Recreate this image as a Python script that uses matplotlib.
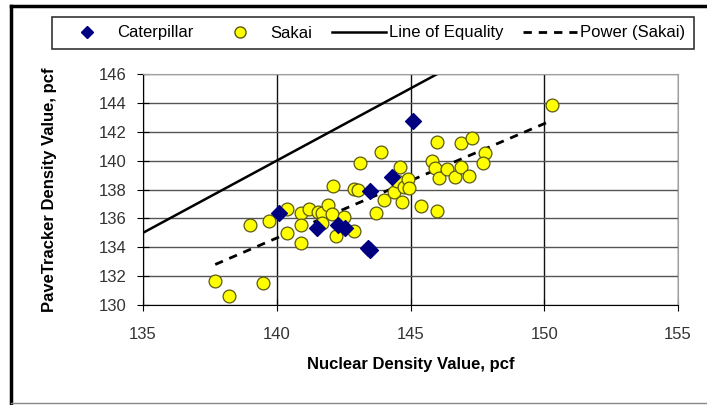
import matplotlib.pyplot as plt
import numpy as np
from matplotlib.lines import Line2D

plt.rcParams['font.family'] = ['Liberation Sans', 'DejaVu Sans']

# Caterpillar roller readings (nuclear gauge vs PaveTracker), pcf
cat_nuclear = [140.1, 141.5, 142.3, 142.55, 143.4, 143.5, 143.5, 144.3, 145.1]
cat_pave = [136.4, 135.35, 135.55, 135.3, 133.95, 133.8, 137.9, 138.9, 142.75]

# Sakai roller readings, pcf
sakai_nuclear = [137.7, 138.2, 139.5, 139.0, 139.7, 140.4, 140.4, 140.9, 140.9, 140.9,
                 141.2, 141.55, 141.7, 141.7, 141.9, 142.05, 142.1, 142.2, 142.5, 142.9,
                 142.9, 143.05, 143.1, 143.7, 143.9, 144.0, 144.4, 144.6, 144.5, 144.7,
                 144.75, 144.9, 144.95, 145.4, 150.3, 146.0, 146.9, 147.3, 147.8, 147.7,
                 145.8, 145.9, 146.05, 146.35, 146.65, 146.9, 147.2, 146.0]
sakai_pave = [131.65, 130.65, 131.5, 135.55, 135.85, 136.65, 135.0, 136.35, 135.55, 134.3,
              136.65, 136.45, 136.35, 135.65, 136.9, 136.3, 138.25, 134.8, 136.1, 135.1,
              138.05, 137.95, 139.85, 136.4, 140.6, 137.3, 137.85, 139.55, 138.6, 137.15,
              138.15, 138.7, 138.1, 136.85, 143.85, 141.3, 141.2, 141.55, 140.55, 139.85,
              139.95, 139.5, 138.8, 139.4, 138.85, 139.55, 138.95, 136.5]

fig = plt.figure(figsize=(7.07, 4.05), dpi=100)
ax = fig.add_axes([143/707, 1 - 305/405, 535/707, 231/405])

# line of equality
eq = np.array([135, 155])
ax.plot(eq, eq, color='black', lw=1.8, zorder=2)

# power trendline fitted to the Sakai data
sx = np.array(sakai_nuclear)
sy = np.array(sakai_pave)
b, loga = np.polyfit(np.log(sx), np.log(sy), 1)
tx = np.linspace(sx.min(), sx.max(), 50)
ax.plot(tx, np.exp(loga) * tx**b, color='black', lw=2, dashes=(3, 2.5), zorder=2)

ax.scatter(sakai_nuclear, sakai_pave, s=85, marker='o', facecolor='#ffff00',
           edgecolor='#5a5a10', linewidth=0.9, zorder=3)
ax.scatter(cat_nuclear, cat_pave, s=65, marker='D', color='#000080', zorder=4)

ax.set_xlim(135, 155)
ax.set_ylim(130, 146)
ax.set_xticks(np.arange(135, 156, 5))
ax.set_yticks(np.arange(130, 147, 2))
ax.grid(axis='x', color='#111111', lw=1)
ax.grid(axis='y', color='#555555', lw=1)
ax.set_axisbelow(True)

for s in ['top', 'right']:
    ax.spines[s].set_color('#a0a0a0')
for s in ['left', 'bottom']:
    ax.spines[s].set_color('black')
ax.tick_params(axis='y', direction='inout', length=8, pad=8, labelsize=12,
               labelcolor='#333333')
ax.tick_params(axis='x', direction='inout', length=8, pad=12, labelsize=12,
               labelcolor='#333333')

ax.set_xlabel('Nuclear Density Value, pcf', fontsize=12, fontweight='bold')
ax.set_ylabel('PaveTracker Density Value, pcf', fontsize=12, fontweight='bold')
ax.xaxis.set_label_coords(0.5, -0.225)
ax.yaxis.set_label_coords(-0.16, 0.5)

handles = [
    Line2D([], [], ls='none', marker='D', color='#000080', markersize=6),
    Line2D([], [], ls='none', marker='o', markerfacecolor='#ffff00',
           markeredgecolor='#5a5a10', markersize=8),
    Line2D([], [], color='black', lw=1.8),
    Line2D([], [], color='black', lw=2, dashes=(3, 2.5)),
]
labels = ['Caterpillar', 'Sakai', 'Line of Equality', 'Power (Sakai)']
leg = fig.legend(handles, labels, ncol=4, loc='center',
                 bbox_to_anchor=(373/707, 1 - 33/405), fontsize=12,
                 handlelength=3.2, handletextpad=0.2, columnspacing=1.2,
                 frameon=True, fancybox=False, borderpad=0.5)
leg.get_frame().set_edgecolor('black')
leg.get_frame().set_linewidth(1.2)

# outer chart frame
fig.add_artist(Line2D([11/707, 11/707], [1 - 403/405, 1 - 6/405],
                      transform=fig.transFigure, color='black', lw=2.5))
fig.add_artist(Line2D([11/707, 1], [1 - 6/405, 1 - 6/405],
                      transform=fig.transFigure, color='black', lw=2.5))
fig.add_artist(Line2D([11/707, 1], [1 - 403/405, 1 - 403/405],
                      transform=fig.transFigure, color='#888888', lw=1))

fig.savefig('out.png', dpi=100)
